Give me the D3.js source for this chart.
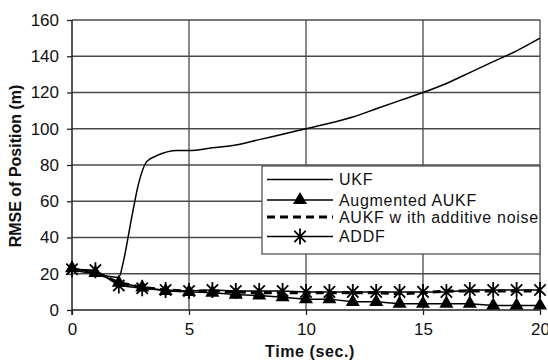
<!DOCTYPE html>
<html>
<head>
<meta charset="utf-8">
<script src="https://cdn.jsdelivr.net/npm/d3@7"></script>
<style>
  body { margin: 0; background: #fff; }
  svg { display: block; font-family: "Liberation Sans", Arial, sans-serif; }
</style>
</head>
<body>
<div id="chart"></div>
<script>
// series values
const ukfTime = [0, 1, 2, 2.2, 2.55, 2.85, 3.2, 3.6, 4.5, 5, 6, 7, 8, 9, 10, 11, 12, 13, 14, 15, 16, 17, 18, 19, 20];
const ukf =     [22, 20, 18, 27, 51, 70, 82, 85, 88, 88, 89.5, 91, 94, 97, 100, 103, 106.5, 111, 115.5, 120, 125, 131, 137, 143, 150];

const timeSteps = [0, 1, 2, 3, 4, 5, 6, 7, 8, 9, 10, 11, 12, 13, 14, 15, 16, 17, 18, 19, 20];
const augAukf = [23, 20.5, 15, 12.5, 10.5, 10, 9.5, 8.5, 8, 7, 6, 6, 4.5, 4.5, 3.5, 3.5, 3.5, 3.5, 2.5, 2.5, 2.5];
const aukfAdd = [22.5, 21, 15, 12.5, 11, 10.5, 10.5, 10, 9.5, 9.5, 9.5, 9.5, 9.5, 9.5, 9, 9.5, 10.5, 10.5, 10.5, 10.5, 10.5];
const addf =    [22.5, 22, 13.5, 12, 11, 10.5, 11, 10.5, 10.5, 10.5, 10, 10, 10, 10, 10, 10, 10, 11, 11, 11, 11];

const seriesNames = ["UKF", "Augmented AUKF", "AUKF w ith additive noise", "ADDF"];
const xTicks = [0, 5, 10, 15, 20];
const yTicks = [0, 20, 40, 60, 80, 100, 120, 140, 160];

const W = 548, H = 363;
const margin = { top: 20, right: 8, bottom: 53, left: 72 };
const width = W - margin.left - margin.right,
  height = H - margin.top - margin.bottom;

const svg = d3.select("#chart").append("svg")
  .attr("width", W)
  .attr("height", H);

const g = svg.append("g")
  .attr("transform", "translate(" + margin.left + "," + margin.top + ")");

const x = d3.scaleLinear().domain([0, 20]).range([0, width]);
const y = d3.scaleLinear().domain([0, 160]).range([height, 0]);

// gridlines
g.append("g")
  .selectAll("line")
  .data(yTicks.slice(1))
  .join("line")
  .attr("x1", 0).attr("x2", width)
  .attr("y1", d => y(d)).attr("y2", d => y(d))
  .attr("stroke", "#4a4a4a").attr("stroke-width", 1.3);

g.append("g")
  .selectAll("line")
  .data(xTicks.slice(1))
  .join("line")
  .attr("x1", d => x(d)).attr("x2", d => x(d))
  .attr("y1", 0).attr("y2", height)
  .attr("stroke", "#4a4a4a").attr("stroke-width", 1.3);

// axes
const yAxis = g.append("g")
  .call(d3.axisLeft(y).tickValues(yTicks).tickSize(5).tickPadding(8).tickSizeOuter(0));
const xAxis = g.append("g")
  .attr("transform", "translate(0," + height + ")")
  .call(d3.axisBottom(x).tickValues(xTicks).tickSize(5).tickPadding(8).tickSizeOuter(0));

[yAxis, xAxis].forEach(a => {
  a.select(".domain").attr("stroke", "#222").attr("stroke-width", 1.5);
  a.selectAll(".tick line").attr("stroke", "#222").attr("stroke-width", 1.3);
  a.selectAll("text")
    .style("font-size", "17px")
    .style("font-family", "Liberation Sans, Arial, sans-serif")
    .attr("fill", "#111");
});
xAxis.select(".domain").attr("d", "M0,0H" + width);
yAxis.select(".domain").attr("d", "M0,0V" + (height + 5));

// axis titles
svg.append("text")
  .attr("transform", "translate(21," + (margin.top + 146) + ") rotate(-90)")
  .attr("text-anchor", "middle")
  .style("font-size", "16px")
  .style("font-weight", "bold")
  .attr("fill", "#111")
  .text("RMSE of Position (m)");

svg.append("text")
  .attr("x", 310)
  .attr("y", 357)
  .attr("text-anchor", "middle")
  .style("font-size", "16px")
  .style("font-weight", "bold")
  .style("letter-spacing", "0.6px")
  .attr("fill", "#111")
  .text("Time (sec.)");

const line = d3.line().x(d => x(d[0])).y(d => y(d[1]));

const plot = g.append("g");

// UKF
plot.append("path")
  .datum(d3.zip(ukfTime, ukf))
  .attr("d", d3.line().curve(d3.curveMonotoneX).x(d => x(d[0])).y(d => y(d[1])))
  .attr("fill", "none").attr("stroke", "#000").attr("stroke-width", 1.5);

// AUKF with additive noise (dashed)
plot.append("path")
  .datum(d3.zip(timeSteps, aukfAdd))
  .attr("d", line)
  .attr("fill", "none").attr("stroke", "#000").attr("stroke-width", 3)
  .attr("stroke-dasharray", "8,5");

// Augmented AUKF
plot.append("path")
  .datum(d3.zip(timeSteps, augAukf))
  .attr("d", line)
  .attr("fill", "none").attr("stroke", "#000").attr("stroke-width", 1.5);

// ADDF
plot.append("path")
  .datum(d3.zip(timeSteps, addf))
  .attr("d", line)
  .attr("fill", "none").attr("stroke", "#000").attr("stroke-width", 1.5);

const triangle = d3.symbol().type(d3.symbolTriangle).size(85);
function starPath(r) {
  const a = r * Math.SQRT1_2;
  return "M0," + (-r) + "V" + r + "M" + (-a) + "," + (-a) + "L" + a + "," + a +
    "M" + a + "," + (-a) + "L" + (-a) + "," + a;
}

plot.append("g")
  .selectAll("path")
  .data(d3.zip(timeSteps, augAukf))
  .join("path")
  .attr("transform", d => "translate(" + x(d[0]) + "," + y(d[1]) + ")")
  .attr("d", triangle)
  .attr("fill", "#000");

plot.append("g")
  .selectAll("path")
  .data(d3.zip(timeSteps, addf))
  .join("path")
  .attr("transform", d => "translate(" + x(d[0]) + "," + y(d[1]) + ")")
  .attr("d", starPath(8))
  .attr("fill", "none")
  .attr("stroke", "#000")
  .attr("stroke-width", 1.8);

// legend
const lg = svg.append("g").attr("transform", "translate(262,166)");
lg.append("rect")
  .attr("width", 278).attr("height", 88)
  .attr("fill", "#fff").attr("stroke", "#555").attr("stroke-width", 1.3);

const rowY = [13.5, 34, 51, 70.5];
seriesNames.forEach((name, i) => {
  const row = lg.append("g").attr("transform", "translate(0," + rowY[i] + ")");
  const ln = row.append("line")
    .attr("x1", 5).attr("x2", 71).attr("y1", 0).attr("y2", 0)
    .attr("stroke", "#000").attr("stroke-width", i === 2 ? 3 : 1.5);
  if (i === 2) ln.attr("stroke-dasharray", "8,5");
  if (i === 1) row.append("path").attr("transform", "translate(38,0)").attr("d", triangle).attr("fill", "#000");
  if (i === 3) row.append("path").attr("transform", "translate(38,0)").attr("d", starPath(8))
    .attr("fill", "none").attr("stroke", "#000").attr("stroke-width", 1.8);
  row.append("text")
    .attr("x", 77).attr("y", 0).attr("dy", "0.36em")
    .style("font-size", "16px")
    .style("letter-spacing", "0.7px")
    .attr("fill", "#111")
    .text(name);
});
</script>
</body>
</html>
